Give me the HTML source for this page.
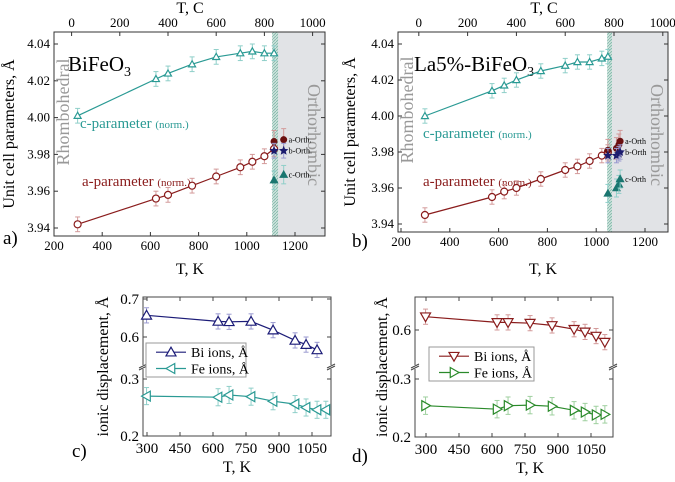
<!DOCTYPE html>
<html><head><meta charset="utf-8"><style>
body{margin:0;background:#fff}
svg{display:block;font-family:"Liberation Serif",serif}
</style></head><body>
<svg id="fig" width="675" height="482" viewBox="0 0 675 482" xmlns="http://www.w3.org/2000/svg">
<defs>
<pattern id="hatch" width="3" height="3" patternUnits="userSpaceOnUse"><rect width="3" height="3" fill="#cfe3dd"/><path d="M0,3 L3,0" stroke="#7fb7a8" stroke-width="0.8"/></pattern>
</defs>
</svg>
<script>
// ---------- data ----------
const aCT = [298,623,673,773,873,973,1023,1073,1113];
const aCV = [4.001,4.021,4.024,4.029,4.033,4.035,4.036,4.035,4.035];
const aAT = [298,623,673,773,873,973,1023,1073,1113];
const aAV = [3.942,3.956,3.958,3.963,3.968,3.973,3.976,3.979,3.983];
const aOrthT = [1113,1153];
const aOrthA = [3.987,3.988];
const aOrthB = [3.982,3.982];
const aOrthC = [3.966,3.969];

const bCT = [298,573,623,673,773,873,923,973,1023,1048];
const bCV = [4.000,4.014,4.017,4.020,4.025,4.028,4.030,4.030,4.032,4.033];
const bAT = [298,573,623,673,773,873,923,973,1023,1048];
const bAV = [3.945,3.955,3.958,3.960,3.965,3.970,3.972,3.975,3.978,3.980];
const bOrthT = [1048,1083,1093,1098];
const bOrthA = [3.981,3.982,3.984,3.986];
const bOrthB = [3.978,3.978,3.979,3.980];
const bOrthC = [3.957,3.960,3.962,3.965];

const cT = [298,623,673,773,873,973,1023,1073];
const cBi = [0.657,0.641,0.640,0.641,0.618,0.591,0.580,0.566];
const cFeT = [298,623,673,773,873,973,1023,1073,1113];
const cFe = [0.270,0.268,0.272,0.269,0.261,0.256,0.250,0.246,0.246];

const dT = [298,623,673,773,873,973,1023,1073,1113];
const dBi = [0.635,0.620,0.620,0.618,0.612,0.602,0.595,0.584,0.568];
const dFe = [0.254,0.248,0.254,0.255,0.253,0.246,0.243,0.238,0.239];

const topTicksK = [200,400,600,800,1000,1200];
const topTicksC = [0,200,400,600,800,1000];
const yTicksAB = [3.94,3.96,3.98,4.00,4.02,4.04];
const xTicksCD = [300,450,600,750,900,1050];

// ---------- helpers ----------
const NS="http://www.w3.org/2000/svg";
const svg=document.getElementById('fig');
function el(tag,attrs,parent){const e=document.createElementNS(NS,tag);for(const k in attrs)e.setAttribute(k,attrs[k]);(parent||svg).appendChild(e);return e;}
function txt(s,x,y,size,attrs){const t=el('text',Object.assign({x:x,y:y,'font-size':size},attrs||{}));t.textContent=s;return t;}
function tri(x,y,r,dir,fill,stroke){
  let p;
  if(dir==='up')p=[[x,y-r],[x-r,y+r*0.75],[x+r,y+r*0.75]];
  else if(dir==='down')p=[[x,y+r],[x-r,y-r*0.75],[x+r,y-r*0.75]];
  else if(dir==='left')p=[[x-r,y],[x+r*0.75,y-r],[x+r*0.75,y+r]];
  else p=[[x+r,y],[x-r*0.75,y-r],[x-r*0.75,y+r]];
  return el('polygon',{points:p.map(q=>q.join(',')).join(' '),fill:fill,stroke:stroke,'stroke-width':1.2});
}
function star(x,y,r,fill){const pts=[];for(let i=0;i<10;i++){const a=-Math.PI/2+i*Math.PI/5;const rr=i%2?r*0.45:r;pts.push((x+rr*Math.cos(a)).toFixed(1)+','+(y+rr*Math.sin(a)).toFixed(1));}return el('polygon',{points:pts.join(' '),fill:fill});}
function errbar(x,y1,y2,c){
  el('line',{x1:x,y1:y1,x2:x,y2:y2,stroke:c,'stroke-width':1});
  el('line',{x1:x-2.5,y1:y1,x2:x+2.5,y2:y1,stroke:c,'stroke-width':1});
  el('line',{x1:x-2.5,y1:y2,x2:x+2.5,y2:y2,stroke:c,'stroke-width':1});
}
function polyline(xs,ys,c,name){
  const p=el('polyline',{points:xs.map((x,i)=>x.toFixed(1)+','+ys[i].toFixed(1)).join(' '),fill:'none',stroke:c,'stroke-width':1.2});
  
  
}

const TEAL='#2a9a94', TEALE='#8fcfc9', RED='#8a1c1c', REDE='#d39a9a', NAVY='#1c1c78', NAVYE='#9a9ad0', GREEN='#2a8a2a', GREENE='#9fd09f';

// ---------- panels a/b ----------
function latticePanel(o){
  const X=T=>o.x0+(T-200)*o.kx, Y=v=>o.y394+(3.94-v)/0.01*o.ky;
  const g=el('rect',{x:X(o.grayStart),y:o.top,width:o.right-X(o.grayStart),height:o.bottom-o.top,fill:'#e1e3e6'});
  
  
  const h=el('rect',{x:X(o.hatchStart),y:o.top,width:X(o.grayStart)-X(o.hatchStart),height:o.bottom-o.top,fill:'url(#hatch)'});
  
  
  const box=el('rect',{x:o.left,y:o.top,width:o.right-o.left,height:o.bottom-o.top,fill:'none',stroke:'#333','stroke-width':1});
  
  
  topTicksK.forEach(T=>{const x=X(T);el('line',{x1:x,y1:o.bottom,x2:x,y2:o.bottom-4,stroke:'#333'});const t=txt(T,x,o.bottom+14,13,{'text-anchor':'middle'});});
  topTicksC.forEach(C=>{const x=X(C+273);el('line',{x1:x,y1:o.top,x2:x,y2:o.top+4,stroke:'#333'});const t=txt(C,x,o.top-5,13,{'text-anchor':'middle'});});
  yTicksAB.forEach(v=>{const y=Y(v);el('line',{x1:o.left,y1:y,x2:o.left+4,y2:y,stroke:'#333'});el('line',{x1:o.right,y1:y,x2:o.right-4,y2:y,stroke:'#333'});const t=txt(v.toFixed(2),o.left-4,y+4,13,{'text-anchor':'end'});});
  let t=txt('T, C',o.topTitleX,13,16,{'text-anchor':'middle'});
  t=txt('T, K',o.botTitleX,274,16,{'text-anchor':'middle'});
  t=txt('Unit cell parameters, Å',0,0,16,{'text-anchor':'middle',transform:`translate(${o.yTitleX},${(o.top+o.bottom)/2}) rotate(-90)`});
  t=txt('Rhombohedral',0,0,18,{'text-anchor':'middle',fill:'#999',transform:`translate(${o.left+15},${o.rhY}) rotate(-90)`});
  t=txt('Orthorhombic',0,0,18,{'text-anchor':'middle',fill:'#999',transform:`translate(${o.right-17},${o.orY}) rotate(90)`});
  t=el('text',{x:o.titleX,y:71,'font-size':21});t.innerHTML=o.title+'<tspan font-size="14" dy="5">3</tspan>';
  t=el('text',{x:o.cLab[0],y:o.cLab[1],'font-size':15,fill:TEAL});t.innerHTML='c-parameter <tspan font-size="11">(norm.)</tspan>';
  t=el('text',{x:o.aLab[0],y:o.aLab[1],'font-size':15,fill:RED});t.innerHTML='a-parameter <tspan font-size="11">(norm.)</tspan>';
  polyline(o.cT.map(X),o.cV.map(Y),TEAL,o.p+'-c-parameter-line');
  o.cT.forEach((T,i)=>{errbar(X(T),Y(o.cV[i]+0.004),Y(o.cV[i]-0.004),TEALE);const m=tri(X(T),Y(o.cV[i]),3.5,'up','#fff',TEAL);});
  polyline(o.aT.map(X),o.aV.map(Y),RED,o.p+'-a-parameter-line');
  o.aT.forEach((T,i)=>{errbar(X(T),Y(o.aV[i]+0.004),Y(o.aV[i]-0.004),REDE);const m=el('circle',{cx:X(T),cy:Y(o.aV[i]),r:3.5,fill:'#fff',stroke:RED,'stroke-width':1.2});});
  o.oT.forEach((T,i)=>{
    errbar(X(T),Y(o.oA[i]+0.006),Y(o.oA[i]-0.006),REDE);
    let m=el('circle',{cx:X(T),cy:Y(o.oA[i]),r:3.5,fill:'#6a1010'});
    errbar(X(T),Y(o.oB[i]+0.004),Y(o.oB[i]-0.004),NAVYE);
    m=star(X(T),Y(o.oB[i]),5,'#1c1c6e');
    errbar(X(T),Y(o.oC[i]+0.005),Y(o.oC[i]-0.005),TEALE);
    m=tri(X(T),Y(o.oC[i]),3.5,'up','#1a7670','#1a7670');
  });
  const lx=X(o.oT[o.oT.length-1])+5, n=o.oT.length-1;
  [['a-Orth'+o.dot,o.oA[n],'a-orth-label'],['b-Orth'+o.dot,o.oB[n],'b-orth-label'],['c-Orth'+o.dot,o.oC[n],'c-orth-label']].forEach(q=>{const t=txt(q[0],lx,Y(q[1])+3,8);});
  t=txt(o.p+')',o.pl[0],o.pl[1],19);
}
latticePanel({p:'a',x0:54,kx:0.241,y394:228,ky:18.4,left:54,right:325,top:32,bottom:236,grayStart:1130,hatchStart:1105,
 topTitleX:190,botTitleX:190,yTitleX:14,rhY:112,orY:135,title:'BiFeO',titleX:68,cLab:[80,128],aLab:[82,186],
 cT:aCT,cV:aCV,aT:aAT,aV:aAV,oT:aOrthT,oA:aOrthA,oB:aOrthB,oC:aOrthC,dot:'.',pl:[3,244]});
latticePanel({p:'b',x0:401,kx:0.244,y394:224,ky:18,left:398,right:668,top:32,bottom:232,grayStart:1065,hatchStart:1045,
 topTitleX:544,botTitleX:543,yTitleX:355,rhY:110,orY:135,title:'La5%-BiFeO',titleX:414,cLab:[423,138],aLab:[423,186],
 cT:bCT,cV:bCV,aT:bAT,aV:bAV,oT:bOrthT,oA:bOrthA,oB:bOrthB,oC:bOrthC,dot:'',pl:[352,247]});

// ---------- panels c/d ----------
function dispPanel(o){
  const X=T=>o.x300+(T-300)*0.22;
  const Y=v=>v>=0.45?o.y06+(0.6-v)/0.1*o.ku:o.y02-(v-0.2)/0.1*o.kl;
  const box=el('rect',{x:o.left,y:o.top,width:o.right-o.left,height:o.bottom-o.top,fill:'none',stroke:'#444','stroke-width':1});
  
  
  [o.left,o.right].forEach(x=>{el('rect',{x:x-4,y:o.brk-2,width:8,height:4,fill:'#fff'});el('line',{x1:x-4,y1:o.brk+1,x2:x+4,y2:o.brk-3,stroke:'#444'});el('line',{x1:x-4,y1:o.brk+3,x2:x+4,y2:o.brk-1,stroke:'#444'});});
  xTicksCD.forEach(T=>{const x=X(T);el('line',{x1:x,y1:o.bottom,x2:x,y2:o.bottom-4,stroke:'#444'});el('line',{x1:x,y1:o.top,x2:x,y2:o.top+4,stroke:'#444'});const t=txt(T,x,o.bottom+17,15,{'text-anchor':'middle'});});
  o.yt.forEach(v=>{const y=Y(v);el('line',{x1:o.left,y1:y,x2:o.left+4,y2:y,stroke:'#444'});el('line',{x1:o.right,y1:y,x2:o.right-4,y2:y,stroke:'#444'});const t=txt(v.toFixed(1),o.left-4,y+5,15,{'text-anchor':'end'});});
  let t=txt('T, K',o.xtX,o.bottom+36,16,{'text-anchor':'middle'});
  t=txt('ionic displacement, Å',0,0,16,{'text-anchor':'middle',transform:`translate(${o.ytX},${(o.top+o.bottom)/2}) rotate(-90)`});
  polyline(o.biT.map(X),o.bi.map(Y),o.bc,o.p+'-bi-ions-line');
  o.biT.forEach((T,i)=>{errbar(X(T),Y(o.bi[i]+0.02),Y(o.bi[i]-0.02),o.bce);const m=tri(X(T),Y(o.bi[i]),5,o.bd,'#fff',o.bc);});
  polyline(o.feT.map(X),o.fe.map(Y),o.fc,o.p+'-fe-ions-line');
  o.feT.forEach((T,i)=>{errbar(X(T),Y(o.fe[i]+0.015),Y(o.fe[i]-0.015),o.fce);const m=tri(X(T),Y(o.fe[i]),5,o.fd,'#fff',o.fc);});
  const L=o.leg;
  const lg=el('rect',{x:L[0],y:L[1],width:L[2],height:L[3],fill:'#fff',stroke:'#999'});
  
  
  [[o.bc,o.bd,'Bi ions, Å',L[1]+L[3]*0.27],[o.fc,o.fd,'Fe ions, Å',L[1]+L[3]*0.75]].forEach(q=>{
    el('line',{x1:L[0]+10,y1:q[3],x2:L[0]+40,y2:q[3],stroke:q[0],'stroke-width':1.2});
    tri(L[0]+25,q[3],5,q[1],'#fff',q[0]);
    const t=txt(q[2],L[0]+45,q[3]+5,14);
  });
  t=txt(o.p+')',o.pl[0],o.pl[1],19);
}
dispPanel({p:'c',x300:147,left:143,right:331,top:297,bottom:436,y06:337,ku:38,y02:436,kl:57,brk:367,yt:[0.2,0.3,0.6,0.7],
 xtX:237,ytX:108,biT:cT,bi:cBi,feT:cFeT,fe:cFe,bc:NAVY,bce:NAVYE,bd:'up',fc:TEAL,fce:TEALE,fd:'left',leg:[146,343,100,34],pl:[72,457]});
dispPanel({p:'d',x300:426,left:415,right:613,top:297,bottom:437,y06:330,ku:38,y02:437,kl:58,brk:367,yt:[0.2,0.3,0.6],
 xtX:530,ytX:387,biT:dT,bi:dBi,feT:dT,fe:dFe,bc:RED,bce:REDE,bd:'down',fc:GREEN,fce:GREENE,fd:'right',leg:[429,347,105,34],pl:[352,462]});
</script>
</body></html>
